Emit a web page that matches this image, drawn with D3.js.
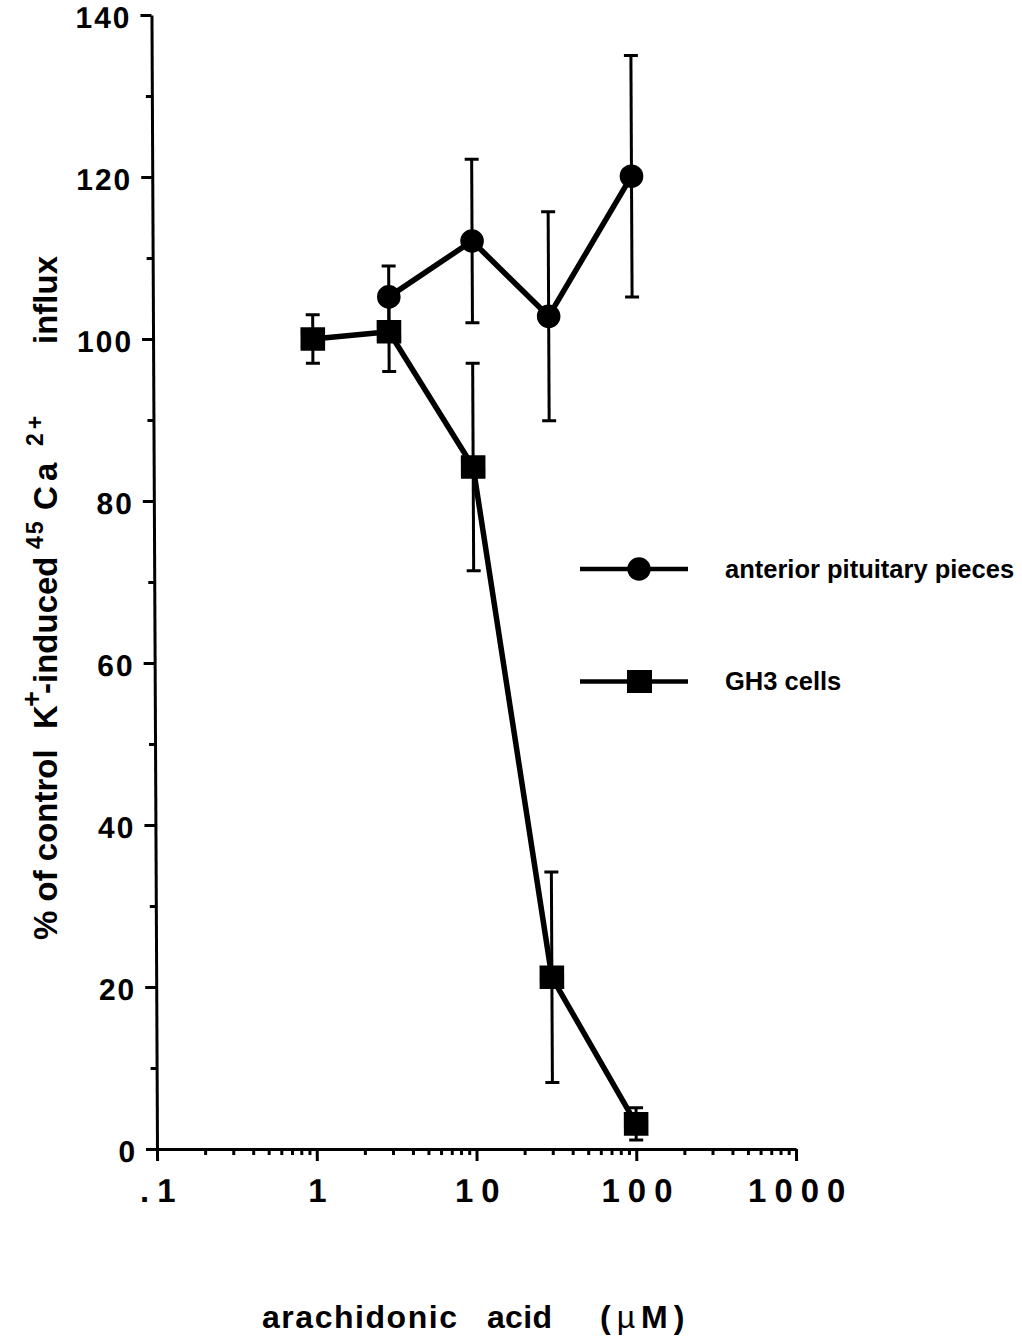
<!DOCTYPE html>
<html>
<head>
<meta charset="utf-8">
<script src="https://cdn.jsdelivr.net/npm/d3@7"></script>
<style>
  body { margin: 0; background: #fff; }
  svg { display: block; }
  text { font-family: "Liberation Sans", Arial, Helvetica, sans-serif; font-weight: bold; fill: #000; }
</style>
</head>
<body>
<svg id="chart" width="1022" height="1344"></svg>
<script>
// Arachidonic acid dose (µM) and % of control K+-induced 45Ca2+ influx
const pituitaryDose = [3, 10, 30, 100];
const pituitaryMean = [105.2, 112.1, 102.8, 120.1];
const pituitaryErr  = [3.8, 10.1, 12.9, 14.9];

const gh3Dose = [1, 3, 10, 30, 100];
const gh3Mean = [100.0, 100.9, 84.2, 21.2, 3.1];
const gh3Err  = [3.0, 4.9, 12.8, 13.0, 2.0];

const xTickValues = [0.1, 1, 10, 100, 1000];
const xTickLabels = [".1", "1", "10", "100", "1000"];
const yTickValues = [0, 20, 40, 60, 80, 100, 120, 140];
const yMinorValues = [10, 30, 50, 70, 90, 110, 130];

const seriesNames = ["anterior pituitary pieces", "GH3 cells"];

const svg = d3.select("#chart");

const x = d3.scaleLog().domain([0.1, 1000]).range([157, 796]);
const y = d3.scaleLinear().domain([0, 140]).range([1149, 15]);

// the printed frame leans slightly: shear about the x-axis baseline
const plot = svg.append("g")
  .attr("transform", `translate(0,${y(0)}) skewX(0.28) translate(0,${-y(0)})`);

// minor decade ticks 2..9 within each decade
const xMinorValues = [];
[0.1, 1, 10, 100].forEach(d => { for (let k = 2; k <= 9; k++) xMinorValues.push(+(d * k).toPrecision(3)); });

// ---- axes ----
const yAxisG = plot.append("g").attr("transform", `translate(${x(0.1)},0)`);
yAxisG.call(d3.axisLeft(y).tickValues(yTickValues).tickSize(11).tickSizeOuter(0).tickPadding(9).tickFormat(d3.format("d")));
yAxisG.select(".domain").attr("stroke-width", 3);
yAxisG.selectAll(".tick line").attr("stroke-width", 3);
yAxisG.selectAll(".tick text")
  .attr("font-size", 30).attr("font-family", null).attr("letter-spacing", 2)
  .attr("dy", "0.42em");

const yMinorG = plot.append("g").attr("transform", `translate(${x(0.1)},0)`);
yMinorG.call(d3.axisLeft(y).tickValues(yMinorValues).tickSize(6).tickSizeOuter(0).tickFormat(""));
yMinorG.select(".domain").remove();
yMinorG.selectAll(".tick line").attr("stroke-width", 3);

const xAxisG = plot.append("g").attr("transform", `translate(0,${y(0)})`);
xAxisG.call(d3.axisBottom(x).tickValues(xTickValues).tickSize(12).tickSizeOuter(0).tickPadding(18)
  .tickFormat((d, i) => xTickLabels[i]));
xAxisG.select(".domain").attr("stroke-width", 3);
xAxisG.selectAll(".tick line").attr("stroke-width", 3);
xAxisG.selectAll(".tick text")
  .attr("font-size", 33).attr("font-family", null).attr("letter-spacing", 8)
  .attr("dx", 4);

const xMinorG = plot.append("g").attr("transform", `translate(0,${y(0)})`);
xMinorG.call(d3.axisBottom(x).tickValues(xMinorValues).tickSize(6).tickSizeOuter(0).tickFormat(""));
xMinorG.select(".domain").remove();
xMinorG.selectAll(".tick line").attr("stroke-width", 3);

// ---- series ----
const line = d3.line().x(d => x(d.dose)).y(d => y(d.mean));

function drawSeries(doses, means, errs, shape) {
  const data = doses.map((d, i) => ({ dose: d, mean: means[i], err: errs[i] }));
  const g = plot.append("g");
  // error bars
  const eb = g.selectAll(".eb").data(data).join("g");
  eb.append("line")
    .attr("x1", d => x(d.dose)).attr("x2", d => x(d.dose))
    .attr("y1", d => y(d.mean + d.err)).attr("y2", d => y(d.mean - d.err))
    .attr("stroke", "#000").attr("stroke-width", 3);
  [1, -1].forEach(s => {
    eb.append("line")
      .attr("x1", d => x(d.dose) - 7).attr("x2", d => x(d.dose) + 7)
      .attr("y1", d => y(d.mean + s * d.err)).attr("y2", d => y(d.mean + s * d.err))
      .attr("stroke", "#000").attr("stroke-width", 3);
  });
  // connecting line
  g.append("path").datum(data).attr("d", line)
    .attr("fill", "none").attr("stroke", "#000").attr("stroke-width", 5.5).attr("stroke-linejoin", "round");
  // markers
  if (shape === "circle") {
    g.selectAll("circle").data(data).join("circle")
      .attr("cx", d => x(d.dose)).attr("cy", d => y(d.mean)).attr("r", 11.8).attr("fill", "#000");
  } else {
    g.selectAll("rect").data(data).join("rect")
      .attr("x", d => x(d.dose) - 12.3).attr("y", d => y(d.mean) - 11.8)
      .attr("width", 24.6).attr("height", 23.6).attr("fill", "#000");
  }
}
drawSeries(gh3Dose, gh3Mean, gh3Err, "square");
drawSeries(pituitaryDose, pituitaryMean, pituitaryErr, "circle");

// ---- legend ----
const legend = svg.append("g");
const legendRows = [{ name: seriesNames[0], shape: "circle", cy: 569, ty: 578 },
                    { name: seriesNames[1], shape: "square", cy: 681.5, ty: 690 }];
legendRows.forEach(r => {
  legend.append("line").attr("x1", 580).attr("x2", 688).attr("y1", r.cy).attr("y2", r.cy)
    .attr("stroke", "#000").attr("stroke-width", 4.5);
  if (r.shape === "circle") {
    legend.append("circle").attr("cx", 639).attr("cy", r.cy).attr("r", 11.7).attr("fill", "#000");
  } else {
    legend.append("rect").attr("x", 627).attr("y", r.cy - 11.5).attr("width", 25).attr("height", 23).attr("fill", "#000");
  }
  legend.append("text").attr("x", 725).attr("y", r.ty).attr("font-size", 25.5).text(r.name);
});

// ---- x-axis title ----
const xTitle = svg.append("g");
xTitle.append("text").attr("x", 262).attr("y", 1328).attr("font-size", 32)
  .attr("textLength", 195).attr("lengthAdjust", "spacing").text("arachidonic");
xTitle.append("text").attr("x", 487).attr("y", 1328).attr("font-size", 32)
  .attr("textLength", 65).attr("lengthAdjust", "spacing").text("acid");
const unit = xTitle.append("text").attr("x", 600).attr("y", 1328).attr("font-size", 32)
  .attr("letter-spacing", 6);
unit.append("tspan").text("(");
unit.append("tspan").attr("font-weight", "normal").text("µ");
unit.append("tspan").text("M)");

// ---- y-axis title (rotated) ----
const yTitle = svg.append("g").attr("transform", "translate(57,0) rotate(-90)");
const yParts = [
  { t: "% of control", at: 940, size: 33, raise: 0 },
  { t: "K", at: 729, size: 33, raise: 0 },
  { t: "+", at: 707, size: 27, raise: 16 },
  { t: "-induced", at: 694, size: 33, raise: 0 },
  { t: "45", at: 549, size: 23, raise: 14, ls: 2 },
  { t: "C", at: 510, size: 33, raise: 0 },
  { t: "a", at: 481, size: 33, raise: 0 },
  { t: "2+", at: 446, size: 23, raise: 14, ls: 4 },
  { t: "influx", at: 344, size: 33, raise: 0 }
];
yParts.forEach(p => {
  yTitle.append("text").attr("x", -p.at).attr("y", -p.raise)
    .attr("font-size", p.size).attr("letter-spacing", p.ls || 0).text(p.t);
});
</script>
</body>
</html>
